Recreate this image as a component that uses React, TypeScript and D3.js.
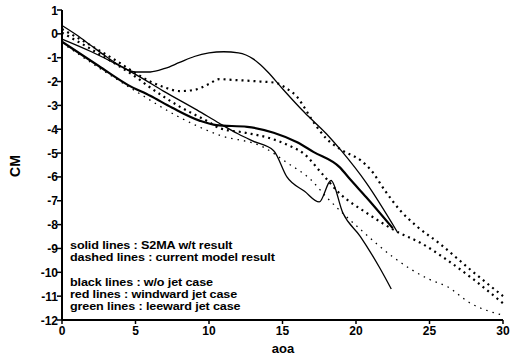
import * as d3 from "d3";

// [aoa, CM]
const windwardSolid: [number, number][] = [
  [0, 0.35], [1, -0.05], [2, -0.5], [3, -0.95], [4, -1.35], [5, -1.6], [6, -1.6],
  [7, -1.45], [8, -1.2], [9, -0.95], [10, -0.8], [11, -0.75], [12, -0.8], [13, -1.05],
  [13.5, -1.3], [14, -1.6], [15, -2.3], [16.5, -3.3], [18, -4.2], [19, -4.9],
  [20.7, -6.25], [22.8, -8.3],
];
const noJetSolid: [number, number][] = [
  [0, -0.33], [2.5, -1.35], [4.5, -2.15], [6, -2.6], [7.5, -3.1], [9.4, -3.65],
  [10.5, -3.83], [12.6, -3.9], [14.4, -4.15], [16, -4.55], [17.1, -4.95], [18.9, -5.6],
  [19.6, -6.1], [20.7, -6.85], [22.5, -8.15],
];
const leewardSolid: [number, number][] = [
  [0, -0.22], [2, -0.75], [3.8, -1.3], [5, -1.7], [6.9, -2.4], [9.2, -3.2], [10.7, -3.75],
  [12, -4.2], [13, -4.5], [14.4, -4.9], [15.3, -6.0], [16.5, -6.6], [17.5, -7.05],
  [18.3, -6.15], [19.1, -7.5], [20.3, -8.5], [21.6, -9.8], [22.4, -10.7],
];
const windwardDashed: [number, number][] = [
  [0, 0.2], [2, -0.5], [4, -1.25], [5, -1.65], [6, -2.0], [7, -2.25], [8, -2.4],
  [9, -2.35], [10, -2.1], [10.7, -1.9], [11.6, -1.93], [13.5, -2.0], [14.5, -2.05],
  [15.3, -2.3], [16, -2.65], [16.5, -3.1], [17, -3.6], [18, -4.4], [19.1, -4.9],
  [20.3, -5.3], [21, -5.7], [22, -6.6], [23, -7.4], [24.1, -8.05], [25.7, -8.8],
  [27.8, -9.9], [30, -11.0],
];
const noJetDashed: [number, number][] = [
  [0, 0.05], [2, -0.65], [4, -1.4], [5, -1.8], [6, -2.25], [8, -3.05], [10, -3.7],
  [10.7, -3.95], [12.5, -4.15], [14.1, -4.37], [15.5, -4.7], [16.5, -5.05], [17.6, -5.8],
  [18.9, -6.7], [20.7, -7.5], [22.8, -8.3], [24.5, -8.8], [26, -9.4], [28, -10.3],
  [30, -11.3],
];
const leewardDashed: [number, number][] = [
  [0, -0.38], [2.5, -1.42], [5, -2.4], [8, -3.5], [10.7, -4.25], [13.7, -4.75],
  [15.3, -5.4], [16.9, -6.1], [18, -6.85], [20.3, -8.2], [22.5, -9.35], [25, -10.3],
  [26.2, -10.6], [27.8, -11.3], [30, -11.8],
];

const xTicks = [0, 5, 10, 15, 20, 25, 30];
const yTicks = [1, 0, -1, -2, -3, -4, -5, -6, -7, -8, -9, -10, -11, -12];
const legendLines = [
  "solid lines : S2MA w/t result",
  "dashed lines : current model result",
  "",
  "black lines : w/o jet case",
  "red lines : windward jet case",
  "green lines : leeward jet case",
];

const W = 521;
const H = 355;
const font = "'Liberation Sans', Arial, sans-serif";

export default function App() {
  const x = d3.scaleLinear().domain([0, 30]).range([62, 503]);
  const y = d3.scaleLinear().domain([-12, 1]).range([320, 10]);

  const line = d3
    .line<[number, number]>()
    .x((d) => x(d[0]))
    .y((d) => y(d[1]))
    .curve(d3.curveMonotoneX);

  const series = [
    { data: windwardSolid, w: 1.3, dash: undefined },
    { data: leewardSolid, w: 1.3, dash: undefined },
    { data: noJetSolid, w: 2.2, dash: undefined },
    { data: windwardDashed, w: 2.2, dash: "2 4" },
    { data: noJetDashed, w: 2.2, dash: "2 4" },
    { data: leewardDashed, w: 1.3, dash: "1.5 5" },
  ];

  return (
    <svg
      width={W}
      height={H}
      style={{ position: "absolute", left: 0, top: 0, background: "#fff" }}
      fontFamily={font}
    >
      {series.map((s, i) => (
        <path
          key={i}
          d={line(s.data) ?? ""}
          fill="none"
          stroke="#000"
          strokeWidth={s.w}
          strokeDasharray={s.dash}
        />
      ))}

      {/* axes */}
      <line x1={x(0)} x2={x(0)} y1={y(1)} y2={y(-12)} stroke="#000" strokeWidth={2} />
      <line x1={x(0)} x2={x(30)} y1={y(-12)} y2={y(-12)} stroke="#000" strokeWidth={2} />
      {yTicks.map((t) => (
        <g key={t}>
          <line x1={x(0) - 5} x2={x(0)} y1={y(t)} y2={y(t)} stroke="#000" strokeWidth={1.5} />
          <text
            x={x(0) - 4}
            y={y(t) + 4.5}
            textAnchor="end"
            fontSize={12}
            fontWeight="bold"
          >
            {t}
          </text>
        </g>
      ))}
      {xTicks.map((t) => (
        <g key={t}>
          <line x1={x(t)} x2={x(t)} y1={y(-12)} y2={y(-12) + 4} stroke="#000" strokeWidth={1.5} />
          <text x={x(t)} y={335} textAnchor="middle" fontSize={12} fontWeight="bold">
            {t}
          </text>
        </g>
      ))}
      <text x={283} y={353} textAnchor="middle" fontSize={13} fontWeight="bold">
        aoa
      </text>
      <text
        transform="translate(20,166) rotate(-90)"
        textAnchor="middle"
        fontSize={14}
        fontWeight="bold"
      >
        CM
      </text>

      {/* legend text, widened like the scan */}
      <g transform="translate(70,0) scale(1.2,1)">
        {legendLines.map((t, i) =>
          t ? (
            <text
              key={i}
              x={0}
              y={249 + i * 12.2}
              fontSize={10.5}
              fontWeight="bold"
              letterSpacing={-0.1}
            >
              {t}
            </text>
          ) : null
        )}
      </g>
    </svg>
  );
}
